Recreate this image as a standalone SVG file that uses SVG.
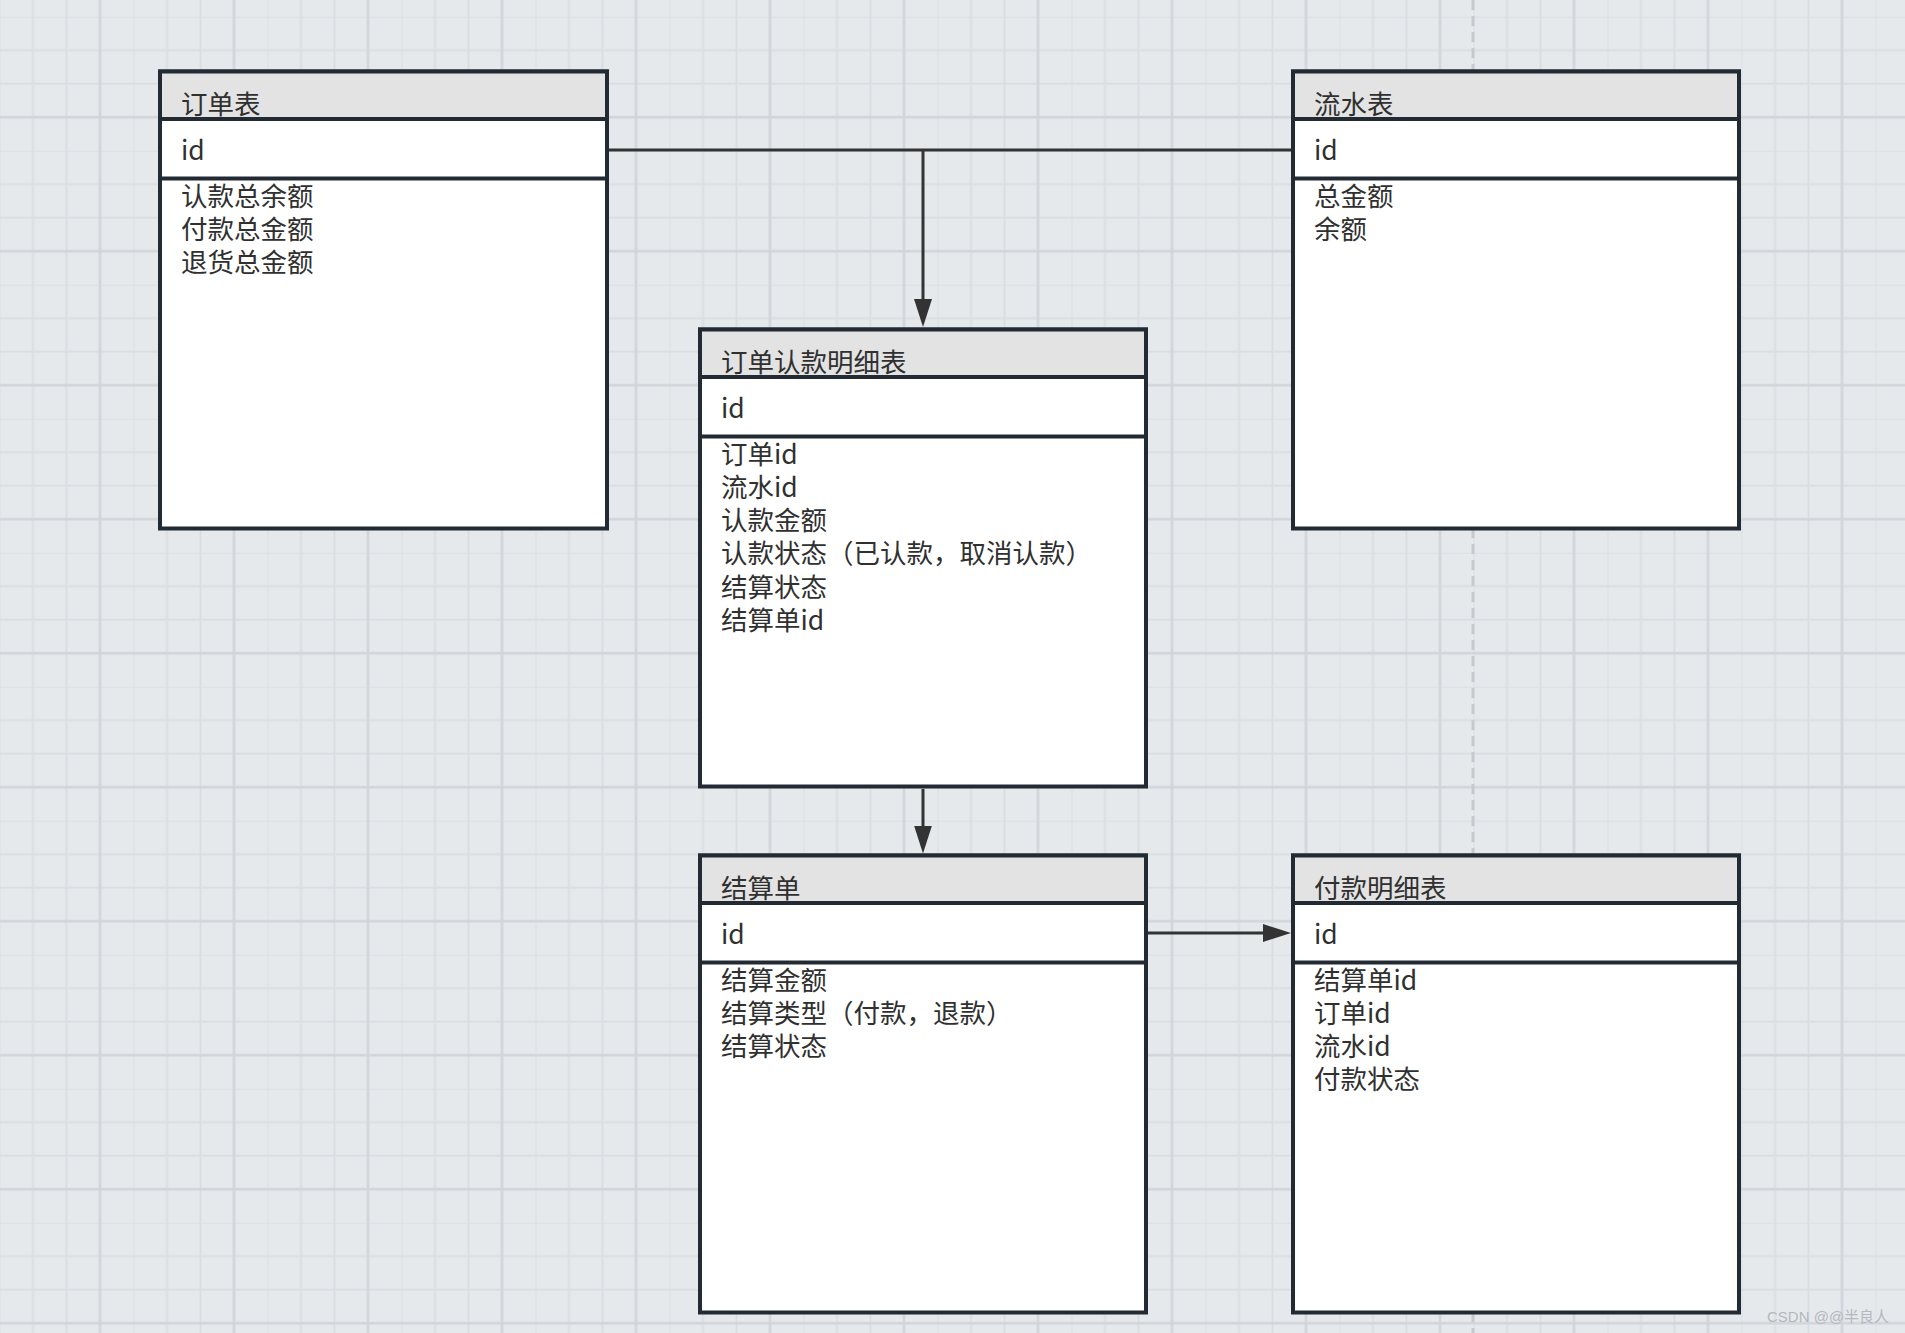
<svg xmlns="http://www.w3.org/2000/svg" width="1905" height="1333" viewBox="0 0 1905 1333">
  <defs>
    <pattern id="grid" patternUnits="userSpaceOnUse" x="-0.5" y="16.7" width="134" height="134">
      <path d="M0,0 V134 M33.5,0 V134 M67,0 V134 M0,0 H134 M0,33.5 H134 M0,67 H134" stroke="#dadee2" stroke-width="2" fill="none"/>
      <path d="M100.5,0 V134 M0,100.5 H134" stroke="#d1d5d9" stroke-width="2.5" fill="none"/>
    </pattern>
    <marker id="arrow" markerUnits="userSpaceOnUse" markerWidth="28" markerHeight="18" refX="18" refY="9" orient="auto">
      <path d="M0,0 L28,9 L0,18 z" fill="#333333"/>
    </marker>
    <style>
      .box { fill: #ffffff; stroke: #222b33; stroke-width: 4; }
      .head { fill: #e3e3e3; stroke: #222b33; stroke-width: 4; }
      .txt { font-family: "Noto Sans CJK SC", "Noto Sans", sans-serif; font-size: 26.5px; fill: #303030; }
      .conn { stroke: #333333; stroke-width: 3; fill: none; }
      .mark { font-family: "Liberation Sans", "Noto Sans CJK SC", sans-serif; font-size: 15px; fill: #b4b8bc; }
    </style>
  </defs>

  <rect x="0" y="0" width="1905" height="1333" fill="#e6e9ec"/>
  <rect x="0" y="0" width="1905" height="1333" fill="url(#grid)"/>
  <line x1="1473" y1="0" x2="1473" y2="1333" stroke="#c6cacf" stroke-width="3" stroke-dasharray="10 6"/>

  <g id="connectors">
    <path class="conn" d="M609,150 H1291"/>
    <path class="conn" d="M923,150 V317" marker-end="url(#arrow)"/>
    <path class="conn" d="M923,789 V843.5" marker-end="url(#arrow)"/>
    <path class="conn" d="M1148,933 H1281" marker-end="url(#arrow)"/>
  </g>

  <g id="node-order">
    <rect class="box" x="160" y="71.5" width="447" height="457"/>
    <rect class="head" x="160" y="71.5" width="447" height="47.5"/>
    <text class="txt" x="181" y="114">订单表</text>
    <rect class="box" x="160" y="119" width="447" height="59.5"/>
    <text class="txt" x="181" y="160">id</text>
    <text class="txt" y="205.5"><tspan x="181">认款总余额</tspan><tspan x="181" dy="33.3">付款总金额</tspan><tspan x="181" dy="33.3">退货总金额</tspan></text>
  </g>

  <g id="node-flow">
    <rect class="box" x="1293" y="71.5" width="446" height="457"/>
    <rect class="head" x="1293" y="71.5" width="446" height="47.5"/>
    <text class="txt" x="1314" y="114">流水表</text>
    <rect class="box" x="1293" y="119" width="446" height="59.5"/>
    <text class="txt" x="1314" y="160">id</text>
    <text class="txt" y="205.5"><tspan x="1314">总金额</tspan><tspan x="1314" dy="33.3">余额</tspan></text>
  </g>

  <g id="node-claim">
    <rect class="box" x="700" y="329.5" width="446" height="457"/>
    <rect class="head" x="700" y="329.5" width="446" height="47.5"/>
    <text class="txt" x="721" y="372">订单认款明细表</text>
    <rect class="box" x="700" y="377" width="446" height="59.5"/>
    <text class="txt" x="721" y="418">id</text>
    <text class="txt" y="463.5"><tspan x="721">订单id</tspan><tspan x="721" dy="33.3">流水id</tspan><tspan x="721" dy="33.3">认款金额</tspan><tspan x="721" dy="33.3">认款状态（已认款，取消认款）</tspan><tspan x="721" dy="33.3">结算状态</tspan><tspan x="721" dy="33.3">结算单id</tspan></text>
  </g>

  <g id="node-settle">
    <rect class="box" x="700" y="855.5" width="446" height="457"/>
    <rect class="head" x="700" y="855.5" width="446" height="47.5"/>
    <text class="txt" x="721" y="898">结算单</text>
    <rect class="box" x="700" y="903" width="446" height="59.5"/>
    <text class="txt" x="721" y="944">id</text>
    <text class="txt" y="989.5"><tspan x="721">结算金额</tspan><tspan x="721" dy="33.3">结算类型（付款，退款）</tspan><tspan x="721" dy="33.3">结算状态</tspan></text>
  </g>

  <g id="node-payment">
    <rect class="box" x="1293" y="855.5" width="446" height="457"/>
    <rect class="head" x="1293" y="855.5" width="446" height="47.5"/>
    <text class="txt" x="1314" y="898">付款明细表</text>
    <rect class="box" x="1293" y="903" width="446" height="59.5"/>
    <text class="txt" x="1314" y="944">id</text>
    <text class="txt" y="989.5"><tspan x="1314">结算单id</tspan><tspan x="1314" dy="33.3">订单id</tspan><tspan x="1314" dy="33.3">流水id</tspan><tspan x="1314" dy="33.3">付款状态</tspan></text>
  </g>

  <text class="mark" x="1767" y="1322">CSDN @@半良人</text>
</svg>
